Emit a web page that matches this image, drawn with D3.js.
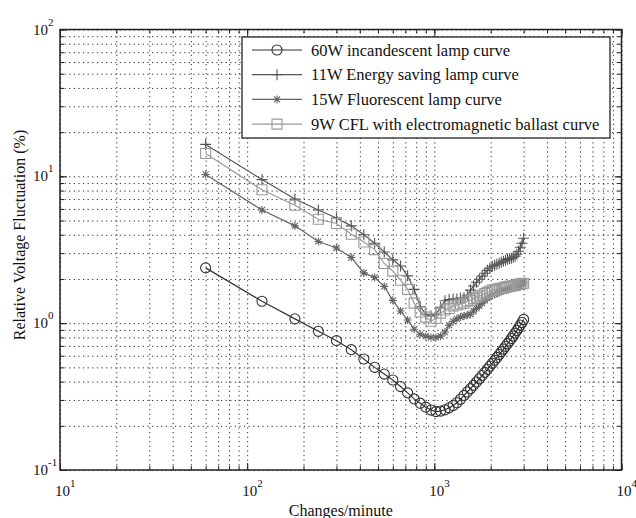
<!DOCTYPE html>
<html>
<head>
<meta charset="utf-8">
<script src="https://cdn.jsdelivr.net/npm/d3@7"></script>
<style>
body { margin: 0; background: #fff; }
svg text { font-family: "Liberation Serif", "Times New Roman", serif; fill: #111; }
</style>
</head>
<body>
<svg id="chart" width="636" height="518"></svg>
<script>
// changes per minute (x) and relative voltage fluctuation in % for each lamp
var changesPerMin = [60, 120, 180, 240, 300, 360, 420, 480, 540, 600,
  660, 720, 780, 840, 900, 960, 1020, 1080, 1140, 1200,
  1260, 1320, 1380, 1440, 1500, 1560, 1620, 1680, 1740, 1800,
  1860, 1920, 1980, 2040, 2100, 2160, 2220, 2280, 2340, 2400,
  2460, 2520, 2580, 2640, 2700, 2760, 2820, 2880, 2940, 3000];

var incandescent60W = [2.38, 1.41, 1.07, 0.88, 0.76, 0.66, 0.57, 0.50, 0.45, 0.41,
  0.37, 0.335, 0.305, 0.285, 0.268, 0.256, 0.250, 0.252, 0.257, 0.265,
  0.275, 0.287, 0.303, 0.322, 0.340, 0.358, 0.377, 0.397, 0.418, 0.440,
  0.462, 0.485, 0.509, 0.533, 0.558, 0.584, 0.611, 0.638, 0.666, 0.695,
  0.725, 0.755, 0.786, 0.818, 0.855, 0.89, 0.93, 0.97, 1.01, 1.06];

var energySaving11W = [16.5, 9.5, 7.0, 5.9, 5.2, 4.6, 4.0, 3.5, 3.05, 2.7,
  2.45, 2.1, 1.7, 1.3, 1.15, 1.12, 1.15, 1.28, 1.42, 1.45,
  1.46, 1.46, 1.48, 1.49, 1.55, 1.68, 1.79, 1.90, 1.99, 2.09,
  2.19, 2.29, 2.37, 2.44, 2.48, 2.52, 2.56, 2.60, 2.64, 2.68,
  2.72, 2.75, 2.77, 2.81, 2.86, 2.95, 3.09, 3.29, 3.50, 3.79];

var fluorescent15W = [10.3, 5.9, 4.6, 3.6, 3.25, 2.8, 2.2, 2.05, 1.78, 1.43,
  1.21, 1.05, 0.91, 0.84, 0.816, 0.80, 0.80, 0.816, 0.87, 0.97,
  1.03, 1.07, 1.10, 1.12, 1.13, 1.15, 1.21, 1.26, 1.31, 1.37,
  1.43, 1.48, 1.53, 1.55, 1.57, 1.60, 1.62, 1.65, 1.66, 1.68,
  1.70, 1.72, 1.73, 1.76, 1.77, 1.79, 1.81, 1.84, 1.87, 1.90];

var cfl9W = [14.3, 8.1, 6.35, 5.1, 4.77, 4.03, 3.57, 3.17, 2.55, 2.26,
  1.96, 1.70, 1.37, 1.19, 1.10, 1.03, 1.08, 1.17, 1.23, 1.26,
  1.31, 1.33, 1.35, 1.37, 1.41, 1.43, 1.47, 1.50, 1.53, 1.55,
  1.59, 1.62, 1.65, 1.68, 1.69, 1.70, 1.72, 1.73, 1.74, 1.76,
  1.77, 1.78, 1.79, 1.80, 1.81, 1.83, 1.84, 1.85, 1.86, 1.87];

var seriesNames = ["60W incandescent lamp curve", "11W Energy saving lamp curve",
  "15W Fluorescent lamp curve", "9W CFL with electromagnetic ballast curve"];

// tick labels: 10 with an exponent
var xMajor = [10, 100, 1000, 10000];
var xExp = ["1", "2", "3", "4"];
var yMajor = [0.1, 1, 10, 100];
var yExp = ["-1", "0", "1", "2"];

(function () {
var svg = d3.select("#chart");
var left = 60, right = 621.5, top = 29.5, bottom = 470;

var x = d3.scaleLog().domain([10, 10000]).range([left, right]);
var y = d3.scaleLog().domain([0.1, 100]).range([bottom, top]);

// every 1..9 tick of each decade, for grid and minor ticks
function allTicks(major) {
  var t = [];
  major.slice(0, -1).forEach(function (m) {
    for (var i = 1; i < 10; i++) t.push(m * i);
  });
  t.push(major[major.length - 1]);
  return t;
}
var xAll = allTicks(xMajor), yAll = allTicks(yMajor);

// dotted grid
var gx = svg.append("g")
  .attr("transform", "translate(0," + bottom + ")")
  .call(d3.axisBottom(x).tickValues(xAll).tickSize(-(bottom - top)).tickFormat(""));
var gy = svg.append("g")
  .attr("transform", "translate(" + left + ",0)")
  .call(d3.axisLeft(y).tickValues(yAll).tickSize(-(right - left)).tickFormat(""));
[gx, gy].forEach(function (g) {
  g.select(".domain").remove();
  g.selectAll("line").attr("stroke", "#2a2a2a").attr("stroke-width", 1).attr("stroke-dasharray", "1.2,3.4");
});

// inward ticks on all four sides, minor shorter than major
function ticks(axisFn, scale, vals, size, tr) {
  var g = svg.append("g").attr("transform", tr)
    .call(axisFn(scale).tickValues(vals).tickSize(size).tickFormat(""));
  g.select(".domain").remove();
  g.selectAll("line").attr("stroke", "#222").attr("stroke-width", 1);
}
ticks(d3.axisBottom, x, xAll, -4, "translate(0," + bottom + ")");
ticks(d3.axisBottom, x, xMajor, -7, "translate(0," + bottom + ")");
ticks(d3.axisTop, x, xAll, -4, "translate(0," + top + ")");
ticks(d3.axisTop, x, xMajor, -7, "translate(0," + top + ")");
ticks(d3.axisLeft, y, yAll, -4, "translate(" + left + ",0)");
ticks(d3.axisLeft, y, yMajor, -7, "translate(" + left + ",0)");
ticks(d3.axisRight, y, yAll, -4, "translate(" + right + ",0)");
ticks(d3.axisRight, y, yMajor, -7, "translate(" + right + ",0)");

svg.append("rect")
  .attr("x", left).attr("y", top)
  .attr("width", right - left).attr("height", bottom - top)
  .attr("fill", "none").attr("stroke", "#222").attr("stroke-width", 1.5);

// tick labels
var xl = svg.selectAll("text.xlab").data(xMajor).enter().append("text")
  .attr("class", "xlab")
  .attr("x", function (d) { return x(d) - 5; })
  .attr("y", 496)
  .style("font-size", "15px");
xl.append("tspan").text("10");
xl.append("tspan").attr("dy", -9).style("font-size", "11px").text(function (d, i) { return xExp[i]; });

var yl = svg.selectAll("text.ylab").data(yMajor).enter().append("text")
  .attr("class", "ylab")
  .attr("x", 33)
  .attr("y", function (d) { return y(d) + 5; })
  .style("font-size", "15px");
yl.append("tspan").text("10");
yl.append("tspan").attr("dy", -9).style("font-size", "11px").text(function (d, i) { return yExp[i]; });

svg.append("text")
  .attr("x", (left + right) / 2).attr("y", 516)
  .attr("text-anchor", "middle")
  .style("font-size", "16px")
  .text("Changes/minute");

svg.append("text")
  .attr("transform", "translate(25,235) rotate(-90)")
  .attr("text-anchor", "middle")
  .style("font-size", "16px")
  .text("Relative Voltage Fluctuation (%)");

// series
var series = [
  { name: seriesNames[0], values: incandescent60W, color: "#333", marker: "circle" },
  { name: seriesNames[1], values: energySaving11W, color: "#555", marker: "plus" },
  { name: seriesNames[2], values: fluorescent15W, color: "#666", marker: "star" },
  { name: seriesNames[3], values: cfl9W, color: "#9a9a9a", marker: "square" }
];

var markerPath = {
  circle: d3.symbol().type(d3.symbolCircle).size(80)(),
  plus: "M-5.5,0H5.5M0,-5.5V5.5",
  star: "M-4,0H4M0,-4V4M-3,-3L3,3M-3,3L3,-3",
  square: "M-5,-5H5V5H-5Z"
};

var line = d3.line()
  .x(function (d) { return x(d[0]); })
  .y(function (d) { return y(d[1]); });

series.forEach(function (s) {
  var pts = changesPerMin.map(function (c, i) { return [c, s.values[i]]; });
  var g = svg.append("g");
  g.append("path").datum(pts)
    .attr("d", line)
    .attr("fill", "none").attr("stroke", s.color).attr("stroke-width", 1.2);
  g.selectAll("path.m").data(pts).enter().append("path")
    .attr("class", "m")
    .attr("transform", function (d) { return "translate(" + x(d[0]) + "," + y(d[1]) + ")"; })
    .attr("d", markerPath[s.marker])
    .attr("fill", "none").attr("stroke", s.color).attr("stroke-width", 1.1);
});

// legend
var legend = svg.append("g");
legend.append("rect")
  .attr("x", 242).attr("y", 37).attr("width", 368).attr("height", 101)
  .attr("fill", "#fff").attr("stroke", "#222").attr("stroke-width", 1.3);
var rows = legend.selectAll("g.row").data(series).enter().append("g")
  .attr("class", "row")
  .attr("transform", function (d, i) { return "translate(0," + (50 + i * 24.7) + ")"; });
rows.append("line")
  .attr("x1", 252).attr("x2", 302)
  .attr("stroke", function (d) { return d.color; }).attr("stroke-width", 1.2);
rows.append("path")
  .attr("transform", "translate(277,0)")
  .attr("d", function (d) { return markerPath[d.marker]; })
  .attr("fill", "none").attr("stroke", function (d) { return d.color; }).attr("stroke-width", 1.1);
rows.append("text")
  .attr("x", 311).attr("y", 5.5)
  .style("font-size", "16.5px")
  .text(function (d) { return d.name; });
})();
</script>
</body>
</html>
